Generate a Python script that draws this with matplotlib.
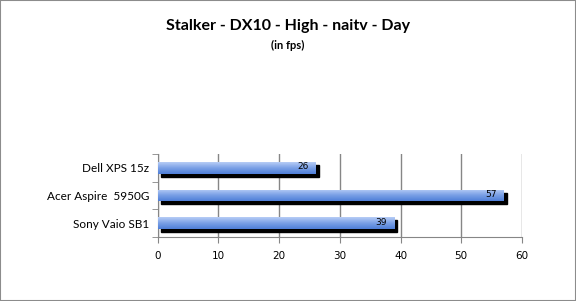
import numpy as np
import matplotlib
matplotlib.use("Agg")
import matplotlib.pyplot as plt
import matplotlib.transforms as mtrans
from matplotlib.patches import Rectangle

# Daten
laptops = ["Dell XPS 15z", "Acer Aspire  5950G", "Sony Vaio SB1"]
fps = [26, 57, 39]
xticks = [0, 10, 20, 30, 40, 50, 60]

fig = plt.figure(figsize=(5.76, 3.01), dpi=100)
fig.patches.append(Rectangle((0, 0), 1, 1, transform=fig.transFigure,
                             fill=False, edgecolor="#8c8c8c", linewidth=1.5))
ax = fig.add_axes([0.274, 0.2126, 0.632, 0.2754])

ypos = np.arange(len(laptops))[::-1]
height = 0.42

# Farbverlauf von hell (oben) nach dunkler (unten)
grad = np.linspace(0, 1, 64).reshape(-1, 1)
cmap = matplotlib.colors.LinearSegmentedColormap.from_list(
    "bar", ["#b7cdf6", "#7aa0e6", "#4f7fd8"])

# Schatten um 3 Pixel nach rechts unten versetzt
shadow_tr = ax.transData + mtrans.ScaledTranslation(3 / 100, -3 / 100, fig.dpi_scale_trans)

for y, v in zip(ypos, fps):
    ax.add_patch(Rectangle((0, y - height / 2), v, height, color="black",
                           transform=shadow_tr, zorder=2))
    bar = ax.barh(y, v, height=height, color="none", zorder=3)[0]
    im = ax.imshow(grad, cmap=cmap, aspect="auto", zorder=3,
                   extent=[0, v, y - height / 2, y + height / 2], origin="upper")
    im.set_clip_path(bar)
    ax.annotate(str(v), (v, y), xytext=(-13, 1), textcoords="offset pixels",
                ha="center", va="center", fontsize=6.5, zorder=5,
                family="DejaVu Sans")

ax.set_xlim(0, 60)
ax.set_ylim(-0.5, len(laptops) - 0.5)
ax.set_xticks(xticks)
ax.set_xticklabels([str(t) for t in xticks], fontsize=7.5, family="DejaVu Sans")
ax.set_yticks(ypos)
ax.set_yticklabels(laptops, fontsize=8.5, family="Lato")
ax.set_yticks(np.arange(-0.5, len(laptops), 1), minor=True)
ax.tick_params(axis="y", which="major", length=0, pad=6)
ax.tick_params(axis="y", which="minor", length=4, color="#868686")
ax.tick_params(axis="x", length=4, color="#868686", pad=6)

ax.grid(axis="x", color="#868686", linewidth=1, zorder=0)
ax.set_axisbelow(True)
for s in ["top", "right"]:
    ax.spines[s].set_visible(False)
for s in ["left", "bottom"]:
    ax.spines[s].set_color("#868686")

fig.text(0.5, 0.915, "Stalker - DX10 - High - naitv - Day", ha="center", va="center",
         fontsize=11.5, fontweight="bold", family="Lato")
fig.text(0.5, 0.848, "(in fps)", ha="center", va="center",
         fontsize=8, fontweight="bold", family="Lato")

fig.savefig("out.png", dpi=100)
